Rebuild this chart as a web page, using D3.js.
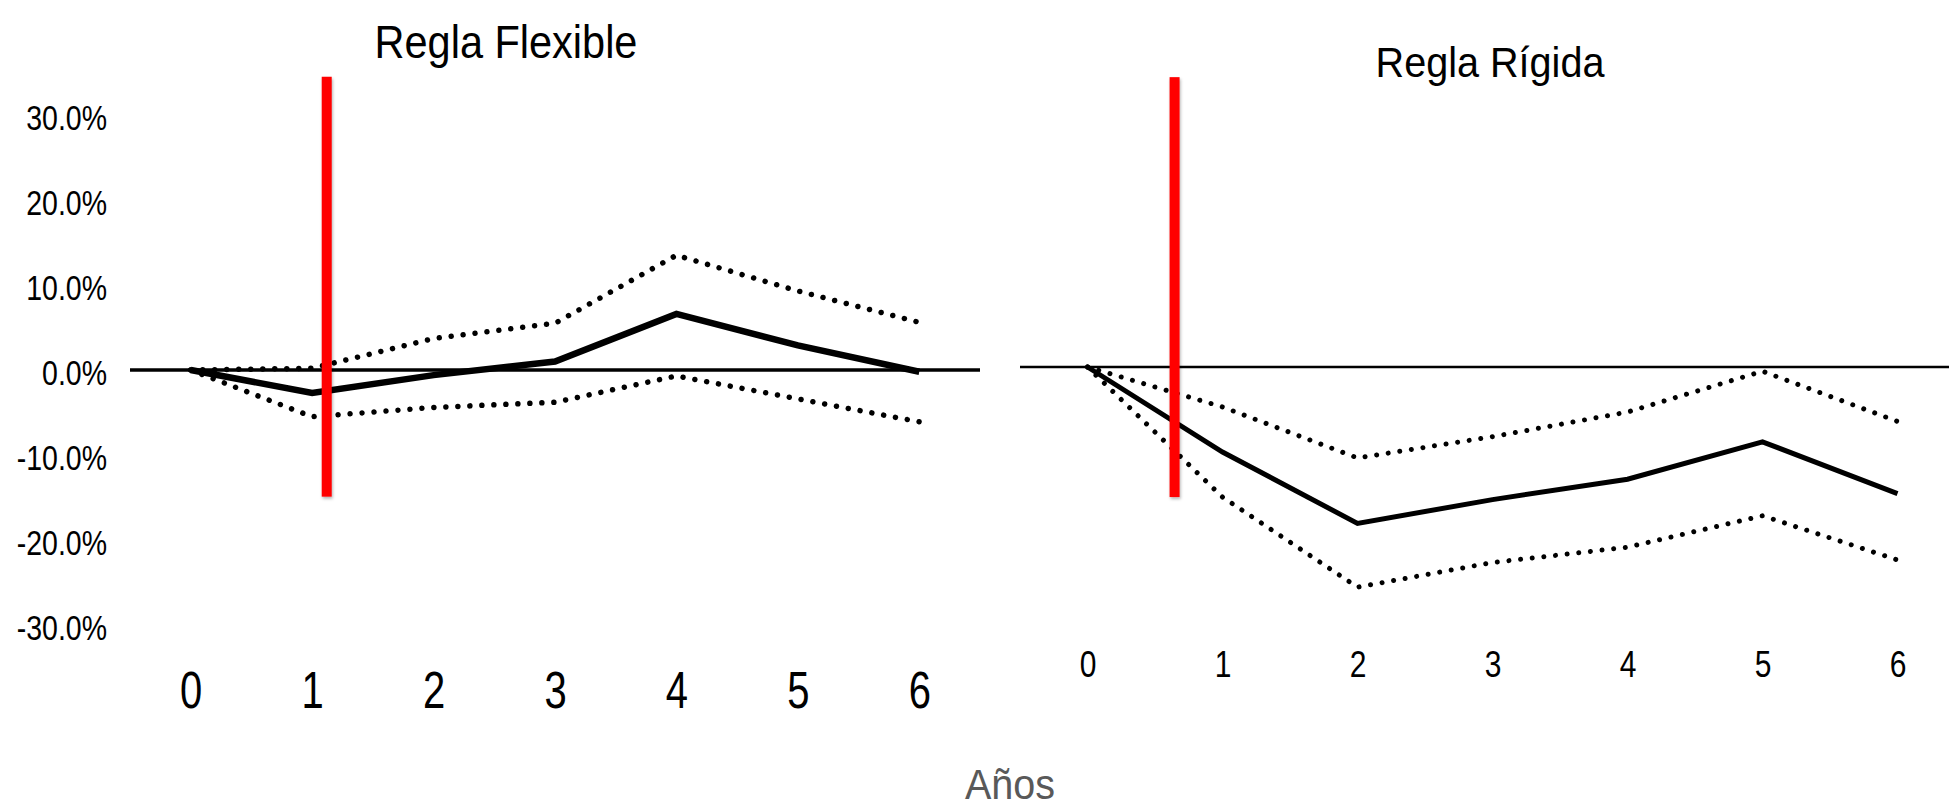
<!DOCTYPE html>
<html>
<head>
<meta charset="utf-8">
<script src="https://cdn.jsdelivr.net/npm/d3@7"></script>
<style>
html, body { margin: 0; padding: 0; background: #ffffff; }
svg { display: block; }
</style>
</head>
<body>
<svg id="chart" width="1949" height="809"></svg>
<script>
// ---------------- DATA ----------------
const years = [0, 1, 2, 3, 4, 5, 6];
const yTicks = [30, 20, 10, 0, -10, -20, -30];

const flexCentral = [0, -2.7, -0.6, 1.0, 6.6, 2.9, -0.2];
const flexUpper   = [0, 0.2, 3.7, 5.5, 13.5, 9.3, 5.6];
const flexLower   = [0, -5.5, -4.4, -3.8, -0.7, -3.4, -6.1];

const rigidCentral = [0, -10.0, -18.4, -15.6, -13.2, -8.8, -14.9];
const rigidUpper   = [0, -4.7, -10.7, -8.2, -5.3, -0.5, -6.4];
const rigidLower   = [0, -15.3, -25.9, -23.0, -21.2, -17.5, -22.7];

const panelTitles = ["Regla Flexible", "Regla Rígida"];
const xAxisTitle = "Años";
const markerYear = [1.12, 0.645];
const markerSpan = [[34.5, -14.9], [34.1, -15.3]];

// ---------------- DRAW ----------------
const svg = d3.select("#chart");
const FONT = "'Liberation Sans', Arial, sans-serif";

const defs = svg.append("defs");
const f = defs.append("filter").attr("id", "shadow")
  .attr("filterUnits", "userSpaceOnUse")
  .attr("x", 0).attr("y", 0).attr("width", 1949).attr("height", 809);
f.append("feDropShadow").attr("dx", 1).attr("dy", 2).attr("stdDeviation", 1.5)
  .attr("flood-color", "#000").attr("flood-opacity", 0.3);

const panels = [
  {
    central: flexCentral, upper: flexUpper, lower: flexLower,
    title: panelTitles[0], marker: markerYear[0], span: markerSpan[0],
    xRange: [130, 980], yRange: [625, 115],
    zeroW: 3.5, solidW: 6.5, dotW: 5.5, dotGap: 12,
    titlePos: [506, 58], titleSize: 41.5, titleK: 1.12,
    xLabelBase: 708, xLabelSize: 40, xLabelK: 1.3,
    yAxis: true
  },
  {
    central: rigidCentral, upper: rigidUpper, lower: rigidLower,
    title: panelTitles[1], marker: markerYear[1], span: markerSpan[1],
    xRange: [1020, 1965], yRange: [622, 112],
    zeroW: 2.5, solidW: 5, dotW: 5, dotGap: 11.7,
    titlePos: [1490, 77], titleSize: 39.6, titleK: 1.06,
    xLabelBase: 677, xLabelSize: 30, xLabelK: 1.26,
    yAxis: false
  }
];

panels.forEach(p => {
  const x = d3.scaleLinear().domain([-0.5, 6.5]).range(p.xRange);
  const y = d3.scaleLinear().domain([-30, 30]).range(p.yRange);
  const g = svg.append("g");

  // title
  g.append("text")
    .attr("transform", `translate(${p.titlePos[0]},${p.titlePos[1]}) scale(1,${p.titleK})`)
    .attr("text-anchor", "middle")
    .attr("font-family", FONT)
    .attr("font-size", p.titleSize)
    .attr("fill", "#000")
    .text(p.title);

  // y axis labels
  if (p.yAxis) {
    const ya = g.append("g")
      .attr("transform", `translate(${p.xRange[0]},0)`)
      .call(d3.axisLeft(y).tickValues(yTicks).tickSize(0).tickPadding(23)
        .tickFormat(d => d.toFixed(1) + "%"));
    ya.select(".domain").remove();
    ya.selectAll("text")
      .attr("x", null)
      .attr("transform", `translate(-23,0) scale(1,1.2)`)
      .attr("dy", "0.42em")
      .attr("font-family", FONT)
      .attr("font-size", 28.5)
      .attr("fill", "#000");
  }

  // x axis labels
  const xa = g.append("g")
    .attr("transform", `translate(0,${p.xLabelBase})`)
    .call(d3.axisBottom(x).tickValues(years).tickSize(0).tickFormat(d3.format("d")));
  xa.select(".domain").remove();
  xa.selectAll("text")
    .attr("y", 0).attr("dy", 0)
    .attr("transform", `scale(1,${p.xLabelK})`)
    .attr("font-family", FONT)
    .attr("font-size", p.xLabelSize)
    .attr("fill", "#000");

  // zero line
  g.append("line")
    .attr("x1", x(-0.5)).attr("x2", x(6.5))
    .attr("y1", y(0)).attr("y2", y(0))
    .attr("stroke", "#000").attr("stroke-width", p.zeroW);

  const line = vals => d3.line().x((d, i) => x(years[i])).y(d => y(d))(vals);

  // dotted bands
  [p.upper, p.lower].forEach(vals => {
    g.append("path")
      .attr("d", line(vals))
      .attr("fill", "none")
      .attr("stroke", "#000")
      .attr("stroke-width", p.dotW)
      .attr("stroke-linecap", "round")
      .attr("stroke-dasharray", `0.01 ${p.dotGap}`);
  });

  // central line
  g.append("path")
    .attr("d", line(p.central))
    .attr("fill", "none")
    .attr("stroke", "#000")
    .attr("stroke-width", p.solidW)
    .attr("stroke-linejoin", "miter");

  // red marker
  g.append("rect")
    .attr("x", x(p.marker) - 5).attr("width", 10)
    .attr("y", y(p.span[0])).attr("height", y(p.span[1]) - y(p.span[0]))
    .attr("fill", "#ff0000")
    .attr("filter", "url(#shadow)");
});

// shared x-axis title
svg.append("text")
  .attr("transform", `translate(1010,799) scale(1,1.06)`)
  .attr("text-anchor", "middle")
  .attr("font-family", FONT)
  .attr("font-size", 39.5)
  .attr("fill", "#595959")
  .text(xAxisTitle);
</script>
</body>
</html>
